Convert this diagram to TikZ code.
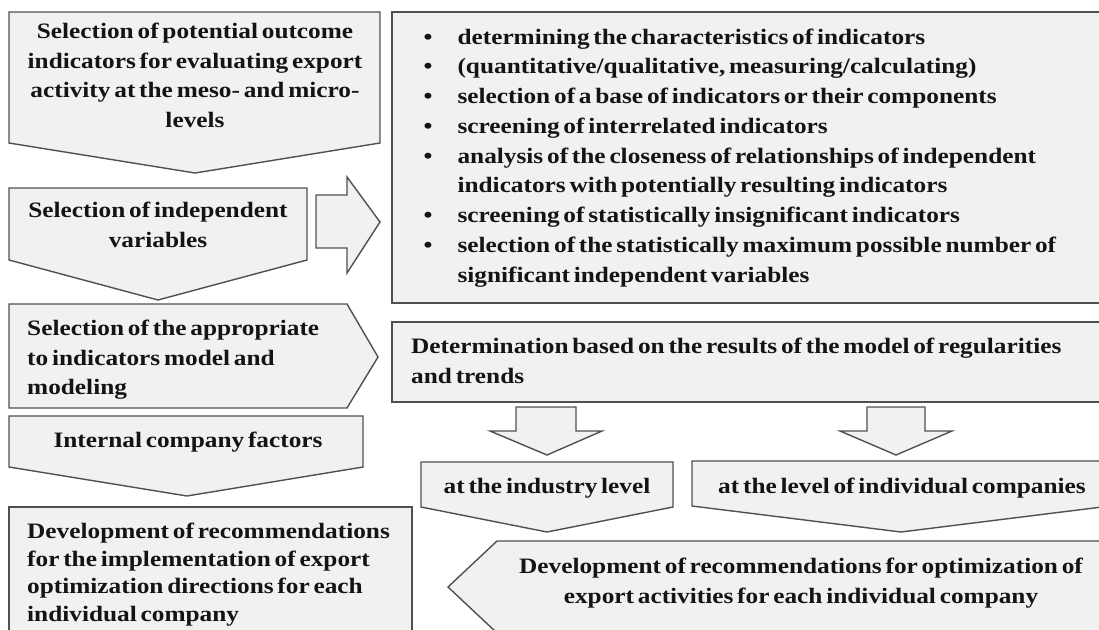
\documentclass[tikz,border=0pt]{standalone}
\usepackage{fontspec}
\setmainfont{Liberation Serif}[FakeStretch=1.15, WordSpace=0.6]
\usepackage{xcolor}
\usepackage{tikz}
\usetikzlibrary{positioning}
\definecolor{panelgris}{HTML}{F1F1F1}
\definecolor{bordegris}{HTML}{505050}
\definecolor{textonegro}{HTML}{141414}

\begin{document}
\begin{tikzpicture}[
    x=1pt, y=-1pt,
    every node/.style={font=\fontsize{22}{29.5}\selectfont\bfseries, text=textonegro, inner sep=0pt},
    panel/.style={fill=panelgris, draw=bordegris, line width=1.4pt, line join=miter}
]
\useasboundingbox (0,0) rectangle (1099,629);
\clip (0,0) rectangle (1099,629);

\draw[panel] (9,12) -- (380,12) -- (380,143) -- (195,173) -- (9,143) -- cycle;
\node[anchor=north, align=center] (outcome) at (195,23)
    {Selection of potential outcome\\indicators for evaluating export\\activity at the meso- and micro-\\levels};

\draw[panel] (9,188) -- (307,188) -- (307,260) -- (158,300) -- (9,260) -- cycle;
\node[anchor=north, align=center] (independent) at (158,202)
    {Selection of independent\\variables};

\draw[panel] (316,195) -- (347,195) -- (347,177) -- (380,222) -- (347,273) -- (347,248) -- (316,248) -- cycle;

\draw[panel] (392,12) rectangle (1115,303);
\node[anchor=base west] (steps) at (423.5,44)
    {\renewcommand{\arraystretch}{1.01}%
     \begin{tabular}[t]{@{}l@{\hspace{25pt}}l@{}}
     \textbullet & determining the characteristics of indicators\\
     \textbullet & (quantitative/qualitative, measuring/calculating)\\
     \textbullet & selection of a base of indicators or their components\\
     \textbullet & screening of interrelated indicators\\
     \textbullet & analysis of the closeness of relationships of independent\\
                 & indicators with potentially resulting indicators\\
     \textbullet & screening of statistically insignificant indicators\\
     \textbullet & selection of the statistically maximum possible number of\\
                 & significant independent variables
     \end{tabular}};

\draw[panel] (9,304) -- (347,304) -- (378,357) -- (347,408) -- (9,408) -- cycle;
\node[anchor=north west, align=left] (model) at (27,320)
    {Selection of the appropriate\\to indicators model and\\modeling};

\draw[panel] (392,322) rectangle (1115,402);
\node[anchor=north west, align=left] (trends) at (411,338)
    {Determination based on the results of the model of regularities\\and trends};

\draw[panel] (9,416) -- (363,416) -- (363,467) -- (187,496) -- (9,467) -- cycle;
\node[anchor=base] (internal) at (188,447) {Internal company factors};

\draw[panel] (516,407) -- (576,407) -- (576,431) -- (602,431) -- (547,455) -- (490,431) -- (516,431) -- cycle;
\draw[panel] (867,407) -- (925,407) -- (925,431) -- (952,431) -- (896,455) -- (840,431) -- (867,431) -- cycle;

\draw[panel] (421,462) -- (673,462) -- (673,507) -- (547,532) -- (421,507) -- cycle;
\node[anchor=base] (industry) at (547,493) {at the industry level};

\draw[panel] (692,461) -- (1110,461) -- (1110,506) -- (901,532) -- (692,506) -- cycle;
\node[anchor=base] (companies) at (902,493) {at the level of individual companies};

\draw[panel] (9,507) rectangle (412,640);
\node[anchor=north west, align=left, font=\fontsize{22}{27.5}\selectfont\bfseries] (implement) at (27,523)
    {Development of recommendations\\for the implementation of export\\optimization directions for each\\individual company};

\draw[panel] (448,587) -- (497,541) -- (1115,541) -- (1115,633) -- (497,633) -- cycle;
\node[anchor=north, align=center] (optimize) at (801,558)
    {Development of recommendations for optimization of\\export activities for each individual company};
\end{tikzpicture}
\end{document}
